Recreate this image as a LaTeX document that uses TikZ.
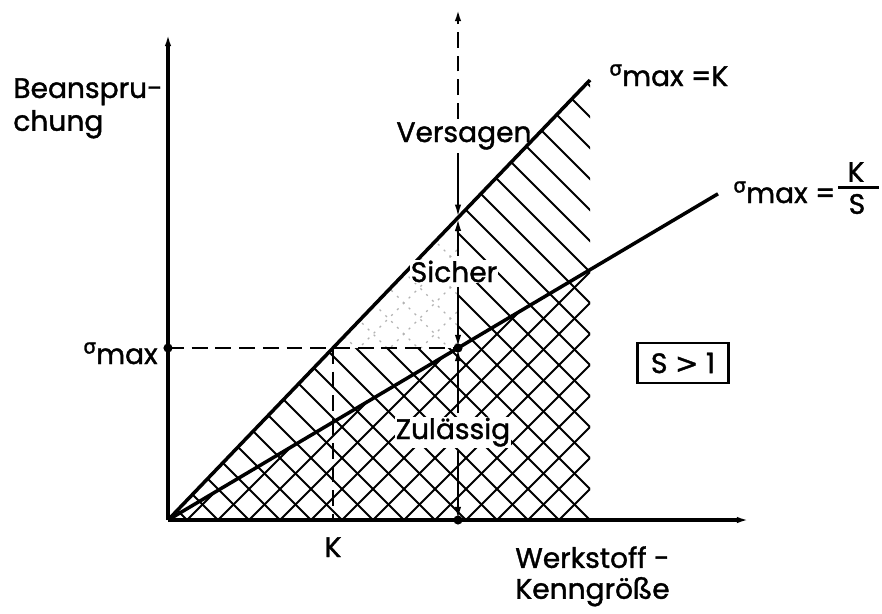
\documentclass[tikz,border=0pt]{standalone}
\usepackage{amsmath}
\usepackage{fontspec}
\setmainfont{Poppins}[FakeBold=1.3]
\newfontfamily\grfont{DejaVu Sans}[FakeBold=1.3]
\usetikzlibrary{arrows.meta}
\newcommand\sigm{\raisebox{6pt}{\fontsize{11.5}{11.5}\selectfont\grfont σ}}
\begin{document}
\begin{tikzpicture}[x=0.02cm,y=-0.02cm,
  every node/.style={font=\fontsize{16}{19}\selectfont, inner sep=0pt},
  axis/.style={line width=2pt},
  mainline/.style={line width=2pt},
  hatch/.style={line width=1.1pt},
  faint/.style={black!30, line width=0.7pt, dash pattern=on 1.2pt off 3.5pt},
  dashln/.style={line width=1.5pt, dash pattern=on 9pt off 4.5pt},
  dim/.style={line width=1.3pt},
  mytip/.tip={Latex[length=7.5pt,width=3.6pt]},
  dot/.style={circle, fill=black, inner sep=0pt, minimum size=5.2pt},
  lab/.style={anchor=base, outer sep=2pt},
  clab/.style={anchor=base, fill=white, inner sep=0.6pt, outer sep=2pt}
]
\useasboundingbox (0,0) rectangle (882,613);
\fill[white] (0,0) rectangle (882,613);
% key points
\coordinate (O) at (168,520);
\coordinate (Ytop) at (168,33);
\coordinate (Xend) at (750,520);
\coordinate (P) at (590,80);
\coordinate (KSend) at (718,193.8);
\coordinate (R) at (590,269.7);
\coordinate (Q) at (590,520);
\coordinate (A) at (168,348);
\coordinate (D) at (333,348);
\coordinate (B) at (458,348);
\coordinate (C) at (458,520);
\coordinate (F) at (458,217.7);
\coordinate (Vtop) at (458,8);
% solid \\ hatching
\begin{scope}
  \clip (O) -- (D) -- (B) -- (F) -- (P) -- (Q) -- cycle;
  \foreach \c in {-535,-504,...,364} \draw[hatch] (0,\c) -- (900,900+\c);
\end{scope}
% faint \\ and / in triangle D-F-B
\begin{scope}
  \clip (D) -- (F) -- (B) -- cycle;
  \foreach \c in {-535,-504,...,364} \draw[faint] (0,\c) -- (900,900+\c);
  \foreach \d in {614,645,...,1110} \draw[faint] (0,\d) -- (900,\d-900);
\end{scope}
% / hatching below K/S line
\begin{scope}
  \clip (O) -- (R) -- (Q) -- cycle;
  \foreach \d in {676,707,...,1110} \draw[hatch] (0,\d) -- (900,\d-900);
\end{scope}
% axes
\draw[axis,-mytip] (O) -- (Ytop);
\draw[axis,-mytip] (O) -- (Xend);
% characteristic lines
\draw[mainline] (O) -- (P);
\draw[mainline] (O) -- (KSend);
% dashed guides
\draw[dashln] (A) -- (B);
\draw[dashln] (D) -- (D |- O);
% labels in the column
\node[lab] (vtxt) at (464,142) {Versagen};
\node[clab] (stxt) at (454,282) {Sicher};
\node[clab] (ztxt) at (453,439) {Zulässig};
\draw[dashln,-mytip] (vtxt.north -| F) -- (Vtop);
\draw[dim,-mytip] (vtxt.south -| F) -- (F);
\draw[dim,-mytip] (stxt.north -| F) -- (F);
\draw[dim,-mytip] (stxt.south -| F) -- (B);
\draw[dim,-mytip] (ztxt.north -| F) -- (B);
\draw[dim,-mytip] (ztxt.south -| F) -- (C);
% dots
\node[dot] (dA) at (A) {};
\node[dot] (dB) at (B) {};
\node[dot] (dC) at (C) {};
% texts
\node[anchor=north west, align=left, font=\fontsize{16}{18.7}\selectfont] (ylab) at (13,78) {Beanspru-\\chung};
\node[anchor=base west] (smaxl) at (83,364) {\sigm max};
\node[anchor=base] (klab) at (333,557) {K};
\node[anchor=north west, align=left, font=\fontsize{16}{17.6}\selectfont] (xlab) at (515,546) {Werkstoff -\\Kenngröße};
\node[anchor=base west] (lblK) at (609,86) {\sigm max =K};
\node[anchor=base west] (lblKS) at (733,203) {\sigm max =};
\node[fill=black, minimum width=0.82cm, minimum height=1.7pt] (fbar) at (858,187) {};
\node (fK) at (856,172) {K};
\node (fS) at (857,204) {S};
\node[draw, line width=1.3pt, minimum width=1.82cm, minimum height=0.8cm] (sbox) at (683,363) {S {\grfont >} 1};
\end{tikzpicture}
\end{document}
